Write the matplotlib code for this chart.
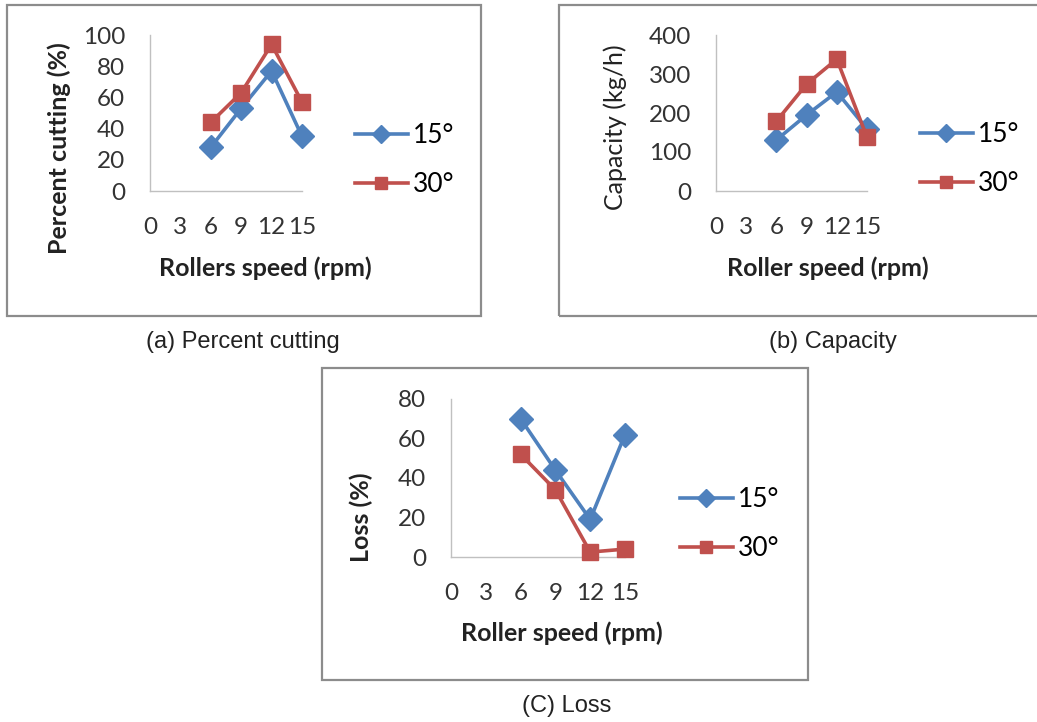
import matplotlib
matplotlib.use("Agg")
import matplotlib.pyplot as plt
from matplotlib.lines import Line2D
from matplotlib.patches import Rectangle

plt.rcParams['font.family'] = ['Lato', 'DejaVu Sans']

# data
speed = [6, 9, 12, 15]
xticks = [0, 3, 6, 9, 12, 15]
cut_15 = [28, 53, 77, 35]
cut_30 = [44, 63, 94, 57]
cap_15 = [131, 195, 254, 159]
cap_30 = [179, 274, 338, 138]
loss_15 = [70, 44, 19, 62]
loss_30 = [52, 34, 2.5, 4]
series_labels = ['15°', '30°']

BLUE = '#4F81BD'
RED = '#C0504D'
W, H = 1037, 722

fig = plt.figure(figsize=(W / 100, H / 100), dpi=100)


def px_axes(left, right, top, bottom):
    return fig.add_axes([left / W, 1 - bottom / H, (right - left) / W, (bottom - top) / H])


def frame(left, right, top, bottom):
    fig.patches.append(Rectangle((left / W, 1 - bottom / H), (right - left) / W, (bottom - top) / H,
                                 transform=fig.transFigure, fill=False,
                                 edgecolor='#8c8c8c', linewidth=1.6))


def panel(box, ylim, yticks, y15, y30, ylabel, ylab_bold, ylab_xy, xlabel, xlab_xy, leg_xy):
    ax = px_axes(*box)
    ax.plot(speed, y15, color=BLUE, lw=2.6, marker='D', ms=12.5, clip_on=False, zorder=3)
    ax.plot(speed, y30, color=RED, lw=2.6, marker='s', ms=12, clip_on=False, zorder=3)
    ax.set_xlim(0, 15)
    ax.set_ylim(*ylim)
    ax.set_xticks(xticks)
    ax.set_yticks(yticks)
    for s in ['top', 'right']:
        ax.spines[s].set_visible(False)
    for s in ['left', 'bottom']:
        ax.spines[s].set_color('#c0c0c0')
        ax.spines[s].set_linewidth(1.0)
    ax.tick_params(axis='x', length=0, pad=19, labelsize=17.5, labelcolor='#333333')
    ax.tick_params(axis='y', length=0, pad=18, labelsize=17.5, labelcolor='#333333')
    fig.text(ylab_xy[0] / W, 1 - ylab_xy[1] / H, ylabel, rotation=90, ha='center', va='center',
             fontsize=18, fontweight='bold' if ylab_bold else 'normal', color='#222222')
    fig.text(xlab_xy[0] / W, 1 - xlab_xy[1] / H, xlabel, ha='center', va='center',
             fontsize=18, fontweight='bold', color='#222222')
    handles = [Line2D([], [], color=BLUE, lw=2.6, marker='D', ms=9),
               Line2D([], [], color=RED, lw=2.6, marker='s', ms=9)]
    ax.legend(handles, series_labels, loc='center left', frameon=False, fontsize=19,
              bbox_to_anchor=(leg_xy[0] / W, 1 - leg_xy[1] / H), bbox_transform=fig.transFigure,
              handlelength=2.0, handletextpad=0.2, labelspacing=0.9, borderpad=0,
              borderaxespad=0)
    return ax


frame(7, 481, 5, 316)
frame(559, 1045, 5, 316)
frame(322, 808, 368, 680)

panel((150, 302, 35, 191), (0, 100), [0, 20, 40, 60, 80, 100], cut_15, cut_30,
      'Percent cutting (%)', True, (59, 148), 'Rollers speed (rpm)', (265, 268), (355, 160))
panel((716, 867, 35, 191), (0, 400), [0, 100, 200, 300, 400], cap_15, cap_30,
      'Capacity (kg/h)', False, (615, 127), 'Roller speed (rpm)', (828, 268), (920, 159))
panel((451, 625, 399, 557), (0, 80), [0, 20, 40, 60, 80], loss_15, loss_30,
      'Loss (%)', True, (361, 517), 'Roller speed (rpm)', (562, 633), (680, 524))

cap_font = dict(family=['Liberation Sans', 'DejaVu Sans'], fontsize=17, color='#222222',
                ha='center', va='center')
fig.text(243 / W, 1 - 342 / H, '(a) Percent cutting', **cap_font)
fig.text(833 / W, 1 - 342 / H, '(b) Capacity', **cap_font)
fig.text(567 / W, 1 - 706 / H, '(C) Loss', **cap_font)

fig.savefig('out.png', dpi=100)
